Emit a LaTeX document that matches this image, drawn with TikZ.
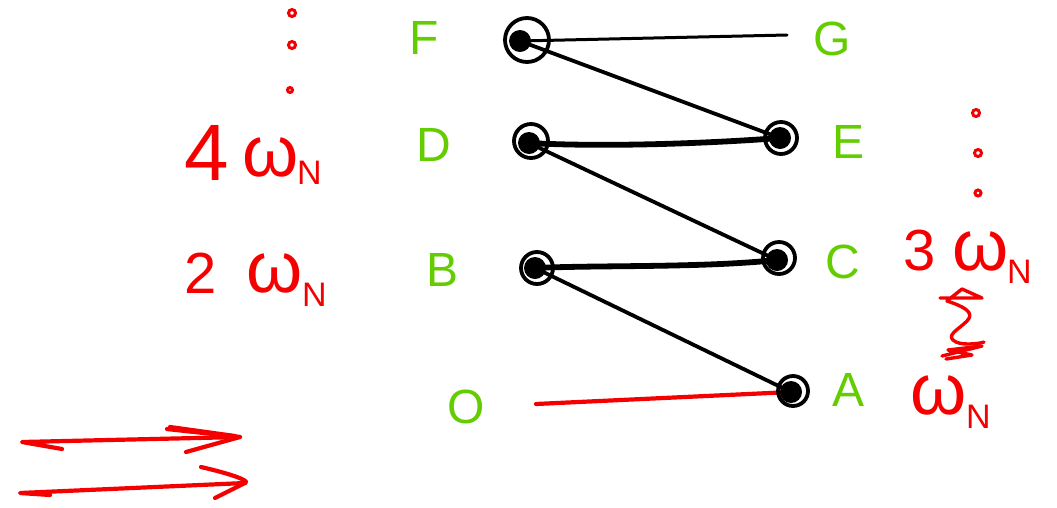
\documentclass[tikz,border=0pt]{standalone}
\usepackage{fontspec}
\setmainfont{Liberation Sans}
\definecolor{penred}{RGB}{245,0,0}
\definecolor{pengreen}{RGB}{100,205,0}
\begin{document}
\begin{tikzpicture}[x=1pt,y=-1pt,
  ink/.style={black, line width=3.8pt, line cap=round, line join=round},
  heavyink/.style={black, line width=5.8pt, line cap=round, line join=round},
  redpen/.style={penred, line width=4.2pt, line cap=round, line join=round},
  blob/.style={circle, fill=black, inner sep=0pt, minimum size=22pt},
  ring/.style={circle, draw=black, line width=3.8pt, inner sep=0pt, minimum size=32pt},
  glabel/.style={text=pengreen, font=\fontsize{48}{48}\selectfont, inner sep=0pt},
  rlabel/.style={text=penred, font=\fontsize{58}{58}\selectfont, inner sep=0pt, anchor=base west},
  rgreek/.style={text=penred, font=\fontsize{72}{72}\selectfont, inner sep=0pt, anchor=base west},
  rsub/.style={text=penred, font=\fontsize{34}{34}\selectfont, inner sep=0pt, anchor=base west},
  pdot/.style={circle, draw=penred, line width=3pt, inner sep=0pt, minimum size=7pt}]
\useasboundingbox (0,0) rectangle (1057,507);
\fill[white] (0,0) rectangle (1057,507);

% vertices of the zig-zag
\coordinate (F) at (520,41);
\coordinate (D) at (529,143);
\coordinate (B) at (535,268);
\coordinate (E) at (780,138);
\coordinate (C) at (777,260);
\coordinate (A) at (791,392);
\coordinate (Gend) at (787,35);
\coordinate (Ostart) at (536,404);

% connectors
\draw[ink, line width=3pt] (F) -- (Gend);
\draw[ink] (F) -- (E);
\draw[heavyink] (D) .. controls (600,147) and (700,144) .. (E);
\draw[ink] (D) -- (C);
\draw[heavyink] (B) .. controls (600,265) and (700,268) .. (C);
\draw[ink] (B) -- (A);
\draw[redpen] (Ostart) -- (A);

% scribbled vertex markers
\node[blob] (Fb) at (F) {};
\node[ring, minimum size=44pt] (Fr) at (527,40) {};
\node[blob] (Db) at (D) {};
\node[ring, minimum size=34pt] (Dr) at (531,141) {};
\node[blob] (Bb) at (B) {};
\node[ring] (Br) at (537,268) {};
\node[blob] (Eb) at (E) {};
\node[ring] (Er) at (781,138) {};
\node[blob] (Cb) at (C) {};
\node[ring] (Cr) at (779,258) {};
\node[blob] (Ab) at (A) {};
\node[ring, minimum size=30pt] (Ar) at (793,391) {};

% green vertex letters
\node[glabel] (lF) at (424,38) {F};
\node[glabel] (lD) at (434,145) {D};
\node[glabel] (lB) at (443,270) {B};
\node[glabel] (lO) at (466,407) {O};
\node[glabel] (lG) at (832,39) {G};
\node[glabel] (lE) at (848,142) {E};
\node[glabel] (lC) at (843,262) {C};
\node[glabel] (lA) at (848,390) {A};

% red frequency labels
\node[rlabel, font=\fontsize{80}{80}\selectfont] (n4) at (184,180) {4};
\node[rgreek] (w4) at (242,176) {ω};
\node[rsub] (s4) at (297,184) {N};
\node[rlabel] (n2) at (184,293) {2};
\node[rgreek] (w2) at (246,292) {ω};
\node[rsub] (s2) at (302,306) {N};
\node[rlabel] (n3) at (903,270) {3};
\node[rgreek] (w3) at (952,270) {ω};
\node[rsub] (s3) at (1007,283) {N};
\node[rgreek] (w1) at (910,414) {ω};
\node[rsub] (s1) at (966,428) {N};

% continuation dots
\node[pdot] (la) at (292,13) {};
\node[pdot] (lb) at (292,45) {};
\node[pdot, minimum size=5pt] (lc) at (290,90) {};
\node[pdot] (ra) at (976,113) {};
\node[pdot] (rb) at (978,153) {};
\node[pdot, minimum size=6pt] (rc) at (978,193) {};

% wavy scribble between the right-hand labels
\draw[redpen, line width=3.4pt] (940,298) -- (982,298) -- (962,289) -- (947,301)
  .. controls (962,306) and (976,312) .. (967,321)
  .. controls (958,330) and (944,336) .. (956,342)
  .. controls (965,346) and (982,343) .. (984,342);
\draw[redpen, line width=3.4pt] (942,356) -- (982,346) -- (948,350) -- (972,355) -- (946,359);

% arrows
\coordinate (a1s) at (22,442);
\coordinate (a1e) at (240,437);
\draw[redpen] (62,449) -- (a1s) -- (a1e);
\draw[redpen] (167,429) -- (a1e) -- (186,452);
\draw[redpen] (170,427) -- (235,436);
\coordinate (a2s) at (20,493);
\coordinate (a2e) at (245,483);
\draw[redpen] (50,495) -- (a2s) -- (a2e);
\draw[redpen] (201,467) .. controls (240,476) and (250,482) .. (a2e) -- (215,498);
\end{tikzpicture}
\end{document}
